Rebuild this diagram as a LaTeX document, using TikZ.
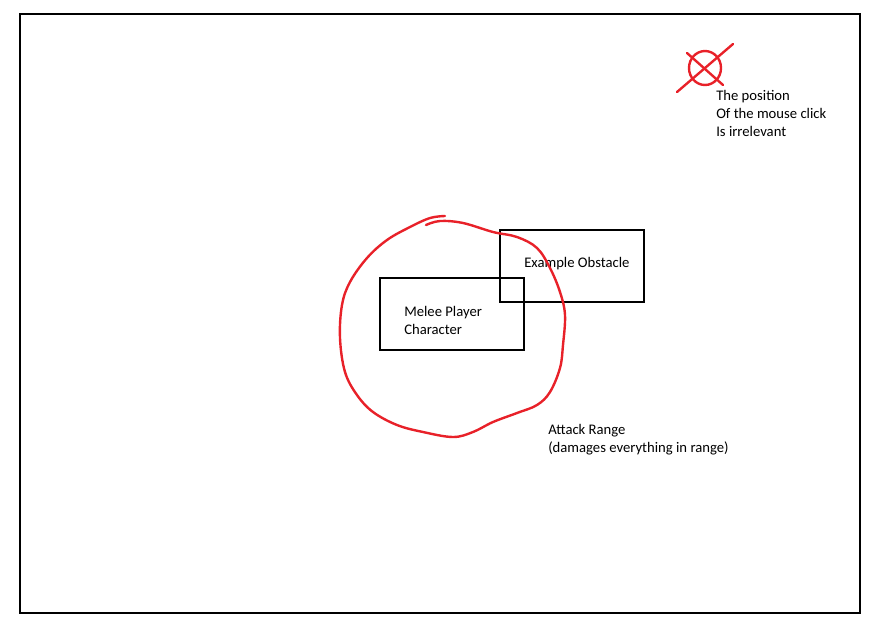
\documentclass[tikz,border=0pt]{standalone}
\usepackage{fontspec}
\setmainfont{Carlito}
\usetikzlibrary{positioning}
\definecolor{penred}{rgb}{0.91, 0.13, 0.16}

\begin{document}
\begin{tikzpicture}[x=0.75pt,y=-0.75pt,
    box/.style={rectangle,draw,line width=1.2pt,minimum width=108pt,minimum height=54pt,inner sep=0pt},
    note/.style={anchor=west,align=left,inner sep=0pt,font=\fontsize{11}{13.5}\selectfont},
    pen/.style={draw=penred,line width=1.8pt,line cap=round,line join=round}]
\useasboundingbox (0,0) rectangle (879,626);
\draw[line width=1.2pt] (20,14) rectangle (860,613);

% the two boxes
\node[box] (player) at (452,314) {};
\node[box] (obstacle) at (572,266) {};
\node[note] (playertext) at (404,320) {Melee Player\\Character};
\node[note] (obstacletext) at (524,264) {Example Obstacle};

% attack range
\draw[pen] plot[smooth,tension=0.6] coordinates {(426,225) (440,221) (463,223) (493,232) (517,237)
  (537,248) (550,268) (560,292) (565,315) (563,345) (560,368) (550,392) (537,405) (517,413)
  (493,422) (473,432) (453,437) (423,432) (397,425) (373,412) (357,395) (345,372) (340,338)
  (342,305) (350,282) (367,258) (387,240) (410,227) (430,218) (445,216)};
\node[note] (rangetext) at (548,440) {Attack Range\\(damages everything in range)};

% mouse click
\coordinate (click) at (705,68);
\draw[pen] (click) ellipse (16 and 17);
\draw[pen] (677,92) -- (733,44);
\draw[pen] (687,53) -- (723,85);
\node[note] (clicktext) at (716,113) {The position\\Of the mouse click\\Is irrelevant};

\end{tikzpicture}
\end{document}
